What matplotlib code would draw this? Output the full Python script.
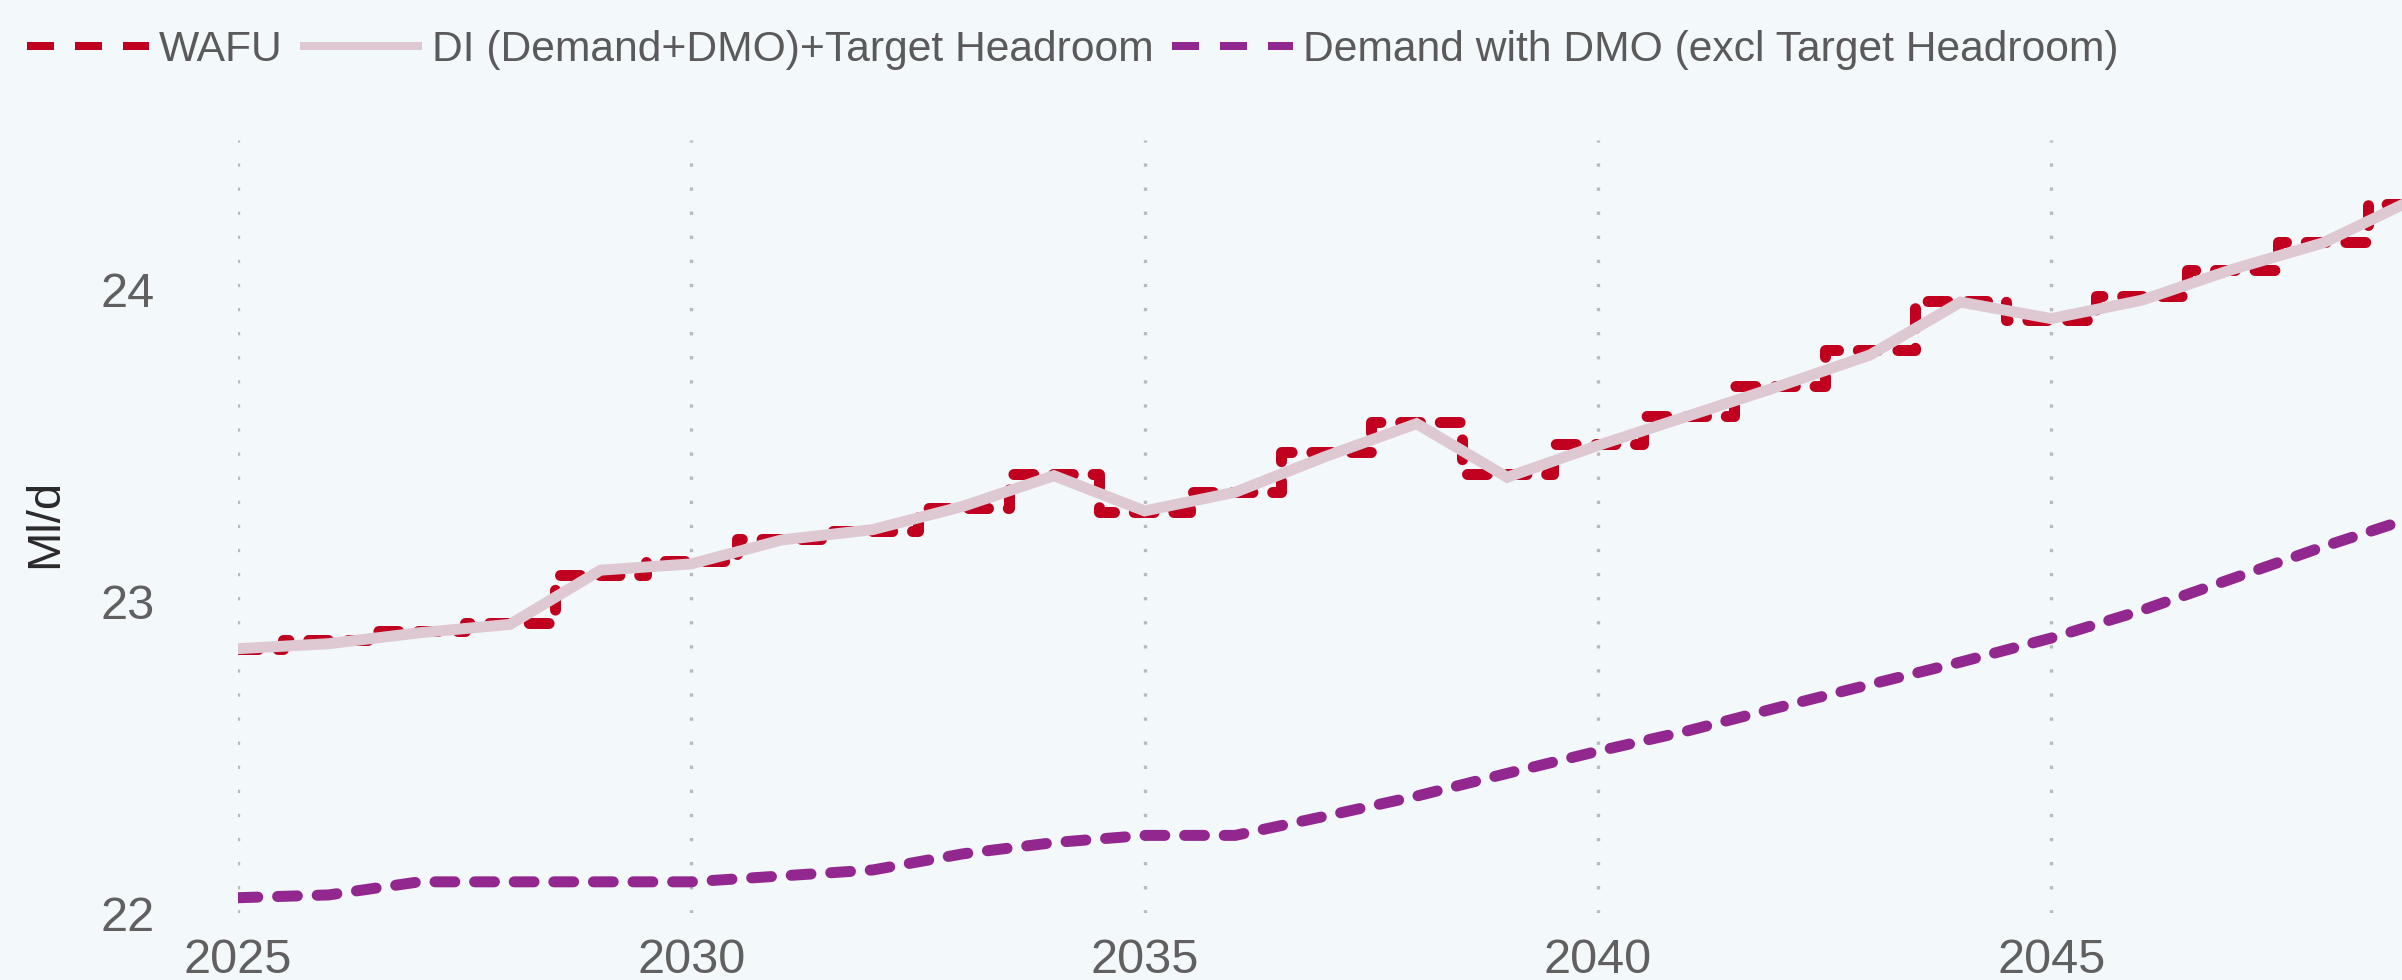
import matplotlib
matplotlib.use("Agg")
import matplotlib.pyplot as plt
from matplotlib.lines import Line2D

import numpy as np

# data (Ml/d, one value per year)
years = list(range(2025, 2050))

wafu = [22.846, 22.875, 22.905, 22.930, 23.085, 23.130, 23.200, 23.226,
        23.300, 23.410, 23.285, 23.350, 23.480, 23.575, 23.408, 23.505,
        23.596, 23.692, 23.805, 23.964, 23.902, 23.978, 24.062, 24.152,
        24.276]

di_headroom = [22.848, 22.864, 22.899, 22.926, 23.100, 23.120, 23.197, 23.230,
               23.305, 23.403, 23.290, 23.350, 23.465, 23.570, 23.398, 23.500,
               23.595, 23.690, 23.790, 23.960, 23.907, 23.966, 24.065, 24.150,
               24.290]

demand_dmo = [22.049, 22.058, 22.100, 22.100, 22.100, 22.100, 22.119, 22.138,
              22.190, 22.226, 22.249, 22.249, 22.311, 22.375, 22.448, 22.519,
              22.585, 22.660, 22.733, 22.805, 22.882, 22.971, 23.073, 23.175,
              23.270]

labels = ["WAFU", "DI (Demand+DMO)+Target Headroom",
          "Demand with DMO (excl Target Headroom)"]
x_ticks = [2025, 2030, 2035, 2040, 2045]
y_ticks = [22, 23, 24]

BG = "#f3f8fb"
RED = "#c0001e"
PINK = "#dec9d3"
PURPLE = "#92278f"
DPI = 100


def px(v):
    # pixels -> points
    return v * 72 / DPI


plt.rcParams["font.family"] = ["Liberation Sans", "DejaVu Sans"]

fig = plt.figure(figsize=(24.02, 9.8), dpi=DPI, facecolor=BG)
ax = fig.add_axes([238 / 2402, 1 - 913 / 980, 1 - 238 / 2402, (913 - 140) / 980])
ax.set_facecolor(BG)

LW = 11
ax.plot(years, wafu, color=RED, lw=px(LW), linestyle=(0, (1.8, 1.8)),
        drawstyle="steps-mid", dash_capstyle="round", zorder=3)
ax.plot(years, di_headroom, color=PINK, lw=px(LW), solid_capstyle="round",
        solid_joinstyle="miter", zorder=4)
ax.plot(years, demand_dmo, color=PURPLE, lw=px(LW), linestyle=(0, (1.8, 1.8)),
        dash_capstyle="round", zorder=5)

ax.set_xlim(2025, 2048.87)
ax.set_ylim(22, 24.48)

ax.set_xticks(x_ticks)
ax.set_yticks(y_ticks)
ax.tick_params(axis="both", length=0, labelsize=35, labelcolor="#606060")
ax.tick_params(axis="x", pad=18)
ax.tick_params(axis="y", pad=60)

ax.xaxis.grid(True, color="#bababa", lw=px(3.3), linestyle=(0, (1.0, 6.3)))
ax.yaxis.grid(False)
for s in ax.spines.values():
    s.set_visible(False)

fig.text(45 / 2402, 1 - 523 / 980, "Ml/d", rotation=90, fontsize=34,
         color="#2a2a2a", ha="center", va="center")

# legend keys are thinner, with flat dash ends
handles = [
    Line2D([], [], color=RED, lw=px(8), linestyle=(0, (27 / 8, 21 / 8)),
           dash_capstyle="butt"),
    Line2D([], [], color=PINK, lw=px(8), solid_capstyle="butt"),
    Line2D([], [], color=PURPLE, lw=px(8), linestyle=(0, (27 / 8, 21 / 8)),
           dash_capstyle="butt"),
]
leg = fig.legend(handles, labels, loc="center left",
                 bbox_to_anchor=(27 / 2402, 1 - 50 / 980),
                 ncol=3, frameon=False, fontsize=30.7, handlelength=2.85,
                 handletextpad=0.24, columnspacing=0.42, borderpad=0,
                 borderaxespad=0)
for t in leg.get_texts():
    t.set_color("#5a5a5a")

fig.savefig("out.png", dpi=DPI, facecolor=BG)
